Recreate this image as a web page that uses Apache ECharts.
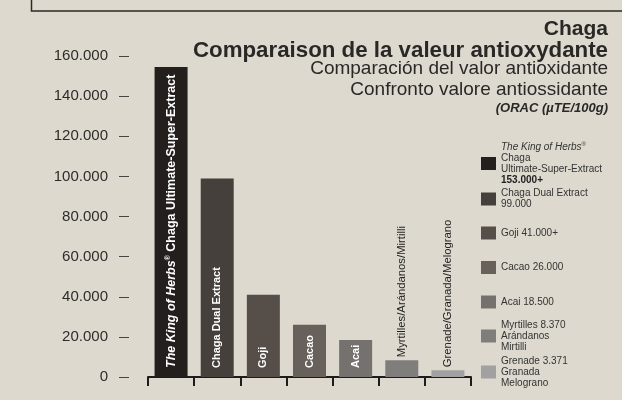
<!DOCTYPE html>
<html>
<head>
<meta charset="utf-8">
<script src="https://cdn.jsdelivr.net/npm/echarts@6/dist/echarts.min.js"></script>
<style>
html,body{margin:0;padding:0;background:#ddd9cf;}
#c{width:622px;height:400px;}
</style>
</head>
<body>
<div id="c"></div>
<script>
// ---- data ----
const categories = ['king', 'dual', 'goji', 'cacao', 'acai', 'myrt', 'gren'];
const values = [154500, 99000, 41000, 26000, 18500, 8370, 3371];
const barLabels = [
  '{i|The King of Herbs}{sup|®}{b| Chaga Ultimate-Super-Extract}',
  'Chaga Dual Extract',
  'Goji',
  'Cacao',
  'Acai',
  'Myrtilles/Arándanos/Mirtilli',
  'Grenade/Granada/Melograno'
];
const legendLabels = [
  '{i|The King of Herbs}{sup|®}\nChaga\nUltimate-Super-Extract\n{b|153.000+}',
  'Chaga Dual Extract\n99.000',
  'Goji 41.000+',
  'Cacao 26.000',
  'Acai 18.500',
  'Myrtilles 8.370\nArándanos\nMirtilli',
  'Grenade 3.371\nGranada\nMelograno'
];
const yTicks = [0, 20000, 40000, 60000, 80000, 100000, 120000, 140000, 160000];
const yTickLabels = ['0', '20.000', '40.000', '60.000', '80.000', '100.000', '120.000', '140.000', '160.000'];
const titleLines = [
  'Chaga',
  'Comparaison de la valeur antioxydante',
  'Comparación del valor antioxidante',
  'Confronto valore antiossidante',
  '(ORAC (µTE/100g)'
];

// ---- styles ----
const FONT = '"Liberation Sans", Arial, Helvetica, sans-serif';
const colors = ['#231f1c', '#45403b', '#554e49', '#67605b', '#75716e', '#807e7d', '#a2a1a1'];
const legendCenters = [163.5, 199, 233, 267.5, 302, 336, 372];
const titleStyles = [
  {top: 19, fontSize: 21, fontWeight: 'bold', fontStyle: 'normal'},
  {top: 39.5, fontSize: 22.3, fontWeight: 'bold', fontStyle: 'normal'},
  {top: 59, fontSize: 19, fontWeight: 'normal', fontStyle: 'normal'},
  {top: 80, fontSize: 19, fontWeight: 'normal', fontStyle: 'normal'},
  {top: 102, fontSize: 13, fontWeight: 'bold', fontStyle: 'italic'}
];

const chart = echarts.init(document.getElementById('c'), null, {renderer: 'canvas'});

const series = categories.map((name, i) => {
  const data = categories.map((c, j) => (j === i ? values[j] : '-'));
  const outside = i >= 5;
  return {
    name: name,
    type: 'bar',
    data: data,
    barWidth: 33,
    barGap: '-100%',
    itemStyle: {color: colors[i]},
    animation: false,
    label: {
      show: true,
      position: outside ? 'top' : 'insideBottom',
      distance: outside ? 3 : 9,
      rotate: 90,
      align: 'left',
      verticalAlign: 'middle',
      formatter: () => barLabels[i],
      color: outside ? '#222' : '#fff',
      fontFamily: FONT,
      fontSize: i === 0 ? 12.5 : (outside ? 11.3 : 11),
      fontWeight: outside ? 'normal' : 'bold',
      rich: {
        i: {fontFamily: FONT, fontSize: 12.5, fontWeight: 'bold', fontStyle: 'italic', color: '#fff'},
        sup: {fontFamily: FONT, fontSize: 7, fontWeight: 'bold', color: '#fff', verticalAlign: 'top'},
        b: {fontFamily: FONT, fontSize: 12.5, fontWeight: 'bold', color: '#fff'}
      }
    }
  };
});

const legends = categories.map((name, i) => {
  const nLines = legendLabels[i].split('\n').length;
  const h = Math.max(13, nLines * 11);
  return {
    data: [name],
    left: 481,
    top: legendCenters[i] - h / 2,
    padding: 0,
    icon: 'rect',
    itemWidth: 15,
    itemHeight: 13,
    selectedMode: false,
    formatter: () => legendLabels[i],
    textStyle: {
      fontFamily: FONT,
      fontSize: 10,
      lineHeight: 11,
      color: '#333',
      rich: {
        i: {fontFamily: FONT, fontSize: 10, lineHeight: 11, fontStyle: 'italic', color: '#333'},
        sup: {fontFamily: FONT, fontSize: 6, lineHeight: 11, color: '#333', verticalAlign: 'top'},
        b: {fontFamily: FONT, fontSize: 10, lineHeight: 11, fontWeight: 'bold', color: '#222'}
      }
    }
  };
});

const titles = titleLines.map((t, i) => ({
  text: t,
  right: 14,
  top: titleStyles[i].top,
  padding: 0,
  textStyle: {
    fontFamily: FONT,
    fontSize: titleStyles[i].fontSize,
    fontWeight: titleStyles[i].fontWeight,
    fontStyle: titleStyles[i].fontStyle,
    color: '#2a2826',
    lineHeight: titleStyles[i].fontSize
  }
}));

chart.setOption({
  backgroundColor: '#ddd9cf',
  animation: false,
  title: titles,
  legend: legends,
  grid: {left: 148, right: 151, top: 56, bottom: 23, containLabel: false},
  xAxis: {
    type: 'category',
    data: categories,
    offset: 15,
    boundaryGap: true,
    axisLine: {show: true, lineStyle: {color: '#1e1c1a', width: 2}},
    axisTick: {show: true, length: 9, lineStyle: {color: '#1e1c1a', width: 2}},
    axisLabel: {show: false},
    splitLine: {show: false}
  },
  yAxis: {
    type: 'value',
    min: 0,
    max: 160000,
    interval: 20000,
    offset: 19,
    axisLine: {show: false},
    axisTick: {show: true, length: 10, lineStyle: {color: '#444', width: 1}},
    axisLabel: {
      margin: 21,
      fontFamily: FONT,
      fontSize: 15,
      color: '#2e2c2a',
      formatter: (v) => {
        const k = yTicks.indexOf(v);
        return k >= 0 ? yTickLabels[k] : '';
      }
    },
    splitLine: {show: false}
  },
  graphic: [{
    type: 'rect',
    shape: {x: 31.5, y: -20, width: 700, height: 31},
    style: {fill: 'none', stroke: '#2b2927', lineWidth: 1.5},
    silent: true
  }],
  series: series
});
</script>
</body>
</html>
